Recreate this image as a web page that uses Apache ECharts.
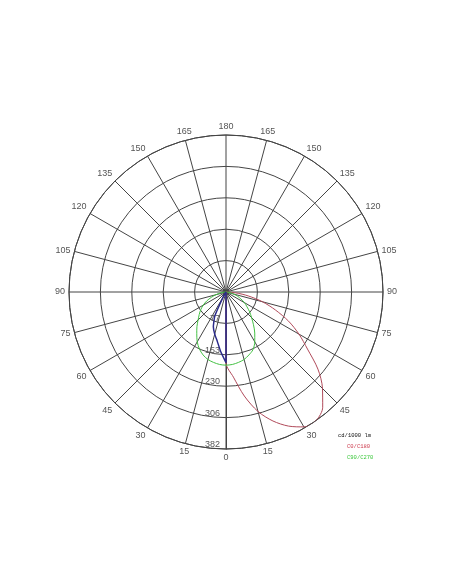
<!DOCTYPE html>
<html>
<head>
<meta charset="utf-8">
<script src="https://cdn.jsdelivr.net/npm/echarts@6/dist/echarts.min.js"></script>
<style>
  html, body { margin: 0; padding: 0; background: #ffffff; }
  #chart { width: 452px; height: 584px; }
</style>
</head>
<body>
<div id="chart"></div>
<script>
// Luminous intensity distribution (cd/1000 lm), gamma angle measured from nadir.
const gammaSteps = [0, 5, 10, 15, 20, 25, 30, 35, 40, 45, 50, 55, 60, 65, 70, 75, 80, 85, 90];

// C0 half-plane (drawn on the right) and C180 half-plane (drawn on the left)
const c0   = [172, 208, 257, 301, 334, 360, 379, 382, 366, 332, 292, 242, 205, 168, 128, 92, 55, 24, 0];
const c180 = [172, 0, 0, 0, 0, 0, 0, 0, 0, 0, 0, 0, 0, 0, 0, 0, 0, 0, 0];

// C90 half-plane (right) and C270 half-plane (left)
const c90  = [178, 177, 174, 170, 163, 155, 140, 122, 104, 88, 75, 62, 52, 40, 30, 20, 11, 4, 0];
const c270 = [178, 177, 174, 170, 163, 153, 140, 124, 110, 96, 85, 75, 64, 52, 38, 25, 14, 6, 0];

// Additional plane, drawn in blue (right half, left half)
const auxRight = [172, 0, 0, 0, 0, 0, 0, 0, 0, 0, 0, 0, 0, 0, 0, 0, 0, 0, 0];
const auxLeft  = [172, 146, 122, 106, 90, 64, 12, 0, 0, 0, 0, 0, 0, 0, 0, 0, 0, 0, 0];

// Ring (radius) scale and its labels
const ringMax = 382;
const ringStep = 76.4;
const ringLabels = ['77', '153', '230', '306', '382'];

// Angle ticks every 15 degrees; labels read symmetrically from nadir (0) to zenith (180)
const angleStep = 15;
const angleTickLabels = ['0', '15', '30', '45', '60', '75', '90', '105', '120', '135', '150', '165',
                         '180', '165', '150', '135', '120', '105', '90', '75', '60', '45', '30', '15', '0'];

const legendNames = ['C0/C180', 'C90/C270'];
const unitLabel = 'cd/1000 lm';

// Build a closed path: right half from 90 deg down to nadir, then the left half back up to 90 deg.
function halfPlanesToPolar(rightVals, leftVals) {
  const pts = [];
  for (let i = gammaSteps.length - 1; i >= 0; i--) pts.push([rightVals[i], gammaSteps[i]]);
  for (let i = 1; i < gammaSteps.length; i++) pts.push([leftVals[i], 360 - gammaSteps[i]]);
  return pts;
}

const gridColor = '#454545';
const labelColor = '#555555';
const fontFamily = '"Liberation Sans", Arial, sans-serif';

const chart = echarts.init(document.getElementById('chart'), null, { renderer: 'canvas' });

chart.setOption({
  backgroundColor: '#ffffff',
  animation: false,
  polar: { center: [226, 292], radius: 157 },
  angleAxis: {
    type: 'value',
    min: 0,
    max: 360,
    interval: angleStep,
    startAngle: 270,
    clockwise: false,
    axisLine: { show: true, lineStyle: { color: gridColor, width: 1 } },
    axisTick: { show: false },
    axisLabel: {
      show: true,
      margin: 4,
      fontSize: 9,
      fontFamily: fontFamily,
      color: labelColor,
      formatter: function (v) { return angleTickLabels[Math.round(v / angleStep)]; }
    },
    splitLine: { show: true, lineStyle: { color: gridColor, width: 1 } }
  },
  radiusAxis: {
    type: 'value',
    min: 0,
    max: ringMax,
    interval: ringStep,
    axisLine: { show: true, lineStyle: { color: gridColor, width: 1 } },
    axisTick: { show: false },
    splitLine: { show: true, lineStyle: { color: gridColor, width: 1 } },
    axisLabel: {
      show: true,
      fontSize: 9,
      fontFamily: fontFamily,
      color: labelColor,
      margin: -6,
      align: 'right',
      verticalAlign: 'bottom',
      padding: [0, 0, 0, 0],
      formatter: function (v) {
        const k = Math.round(v / ringStep);
        return k === 0 ? '' : ringLabels[k - 1];
      }
    }
  },
  title: {
    text: unitLabel,
    left: 333,
    top: 428,
    textStyle: { fontSize: 5.5, fontWeight: 'normal', color: '#111111', fontFamily: '"Liberation Mono", monospace' }
  },
  legend: {
    data: legendNames.map(function (n, i) {
      return { name: n, textStyle: { color: i === 0 ? '#cc3a4c' : '#3cc83c' } };
    }),
    orient: 'vertical',
    left: 336,
    top: 439,
    itemWidth: 0,
    itemHeight: 0,
    itemGap: 5,
    textStyle: { fontSize: 5.5, fontFamily: '"Liberation Mono", monospace' },
    selectedMode: false
  },
  series: [
    {
      name: legendNames[0],
      type: 'line',
      coordinateSystem: 'polar',
      data: halfPlanesToPolar(c0, c180),
      showSymbol: false,
      smooth: 0.3,
      lineStyle: { color: '#b04a5a', width: 1 },
      itemStyle: { color: '#b04a5a' }
    },
    {
      name: legendNames[1],
      type: 'line',
      coordinateSystem: 'polar',
      data: halfPlanesToPolar(c90, c270),
      showSymbol: false,
      smooth: 0.3,
      lineStyle: { color: '#44c044', width: 1 },
      itemStyle: { color: '#44c044' }
    },
    {
      name: 'aux',
      type: 'line',
      coordinateSystem: 'polar',
      data: halfPlanesToPolar(auxRight, auxLeft),
      showSymbol: false,
      smooth: 0.15,
      lineStyle: { color: '#2a2a8a', width: 1.5 },
      itemStyle: { color: '#2a2a8a' }
    }
  ]
});
</script>
</body>
</html>
